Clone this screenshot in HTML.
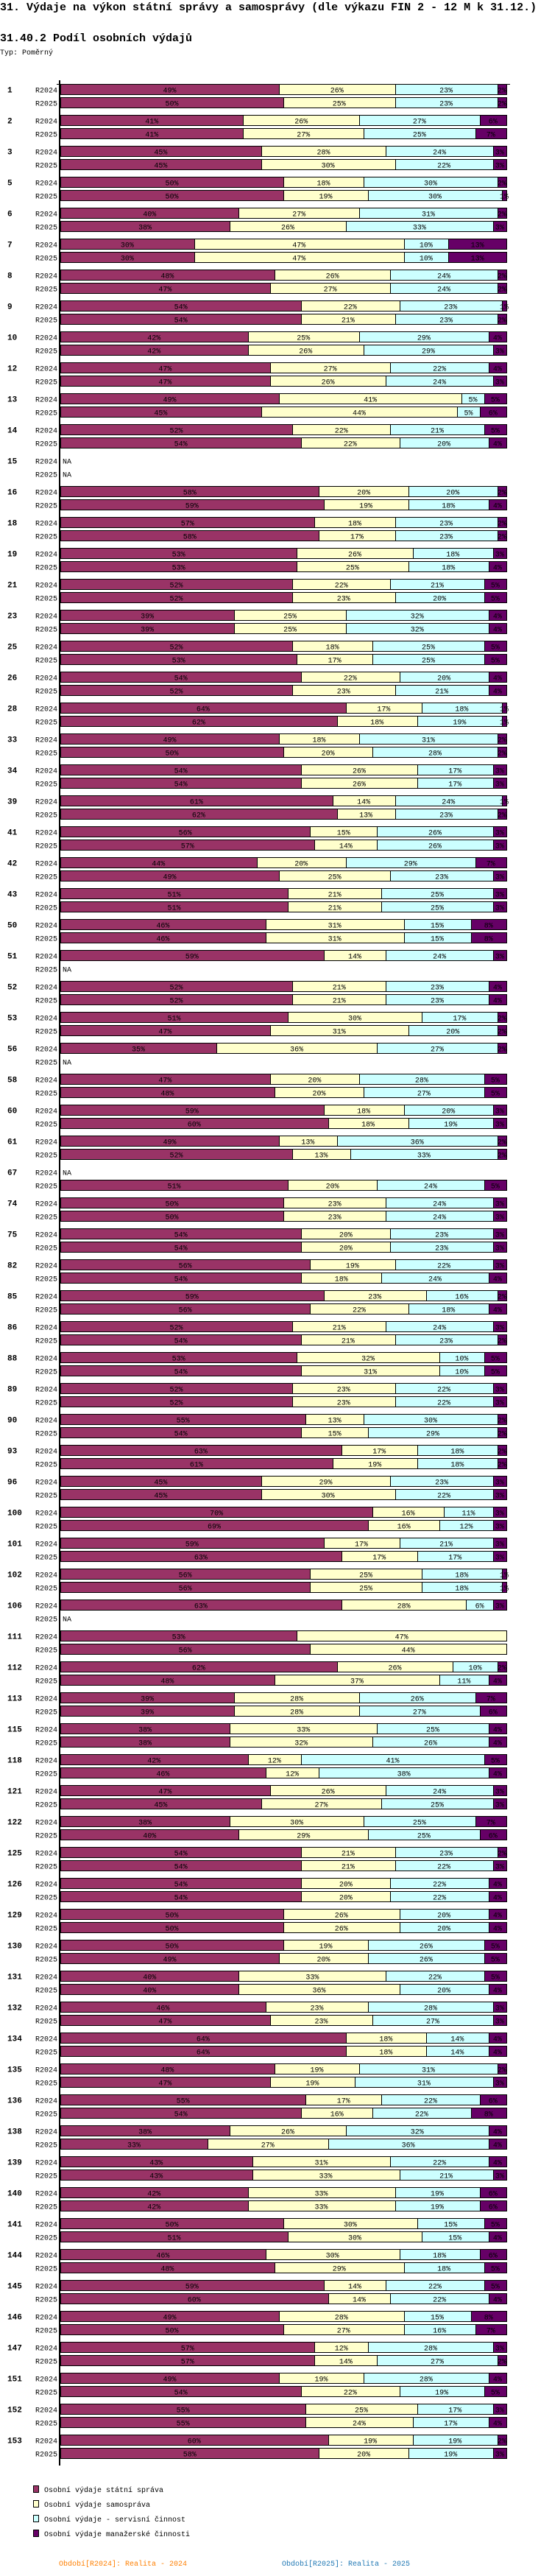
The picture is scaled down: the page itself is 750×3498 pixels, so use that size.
<!DOCTYPE html>
<html><head><meta charset="utf-8"><title>31.40.2 Podíl osobních výdajů</title>
<style>
html,body{margin:0;padding:0;background:#fff;}
body{width:750px;height:3498px;position:relative;overflow:hidden;font-family:"Liberation Mono",monospace;}
.t1{position:absolute;left:0;top:2px;font-size:15px;font-weight:bold;white-space:nowrap;color:#000;}
.t2{position:absolute;left:0;top:44px;font-size:15px;font-weight:bold;white-space:nowrap;color:#000;}
.t3{position:absolute;left:0;top:67px;font-size:10px;white-space:nowrap;color:#000;}
svg{position:absolute;left:0;top:0;}
</style></head>
<body>
<div class="t1">31. Výdaje na výkon státní správy a samosprávy (dle výkazu FIN 2 - 12 M k 31.12.)</div>
<div class="t2">31.40.2 Podíl osobních výdajů</div>
<div class="t3">Typ: Poměrný</div>
<svg id="chart" width="750" height="3498" xmlns="http://www.w3.org/2000/svg"></svg>
<script>
const groups = [1,2,3,5,6,7,8,9,10,12,13,14,15,16,18,19,21,23,25,26,28,33,34,39,41,42,43,50,51,52,53,56,58,60,61,67,74,75,82,85,86,88,89,90,93,96,100,101,102,106,111,112,113,115,118,121,122,125,126,129,130,131,132,134,135,136,138,139,140,141,144,145,146,147,151,152,153];
const periods = ["R2024","R2025"];
const seriesNames = ["Osobní výdaje státní správa","Osobní výdaje samospráva","Osobní výdaje - servisní činnost","Osobní výdaje manažerské činnosti"];
const state2024 = [49,41,45,50,40,30,48,54,42,47, 49,52,null,58,57,53,52,39,52,54, 64,49,54,61,56,44,51,46,59,52, 51,35,47,59,49,null,50,54,56,59, 52,53,52,55,63,45,70,59,56,63, 53,62,39,38,42,47,38,54,54,50, 50,40,46,64,48,55,38,43,42,50, 46,59,49,57,49,55,60];
const samo2024 = [26,26,28,18,27,47,26,22,25,27, 41,22,null,20,18,26,22,25,18,22, 17,18,26,14,15,20,21,31,14,21, 30,36,20,18,13,null,23,20,19,23, 21,32,23,13,17,29,16,17,25,28, 47,26,28,33,12,26,30,21,20,26, 19,33,23,18,19,17,26,31,33,30, 30,14,28,12,19,25,19];
const serv2024 = [23,27,24,30,31,10,24,23,29,22, 5,21,null,20,23,18,21,32,25,20, 18,31,17,24,26,29,25,15,24,23, 17,27,28,20,36,null,24,23,22,16, 24,10,22,30,18,23,11,21,18,6, 0,10,26,25,41,24,25,23,22,20, 26,22,28,14,31,22,32,22,19,15, 18,22,15,28,28,17,19];
const man2024 = [2,6,3,2,2,13,2,1,4,4, 5,5,null,2,2,3,5,4,5,4, 1,2,3,1,3,7,3,8,3,4, 2,2,5,3,2,null,3,3,3,2, 3,5,3,2,2,3,3,3,1,3, 0,2,7,4,5,3,7,2,4,4, 5,5,3,4,2,6,4,4,6,5, 6,5,8,3,4,3,2];
const state2025 = [50,41,45,50,38,30,47,54,42,47, 45,54,null,59,58,53,52,39,53,52, 62,50,54,62,57,49,51,46,null,52, 47,null,48,60,52,51,50,54,54,56, 54,54,52,54,61,45,69,63,56,null, 56,48,39,38,46,45,40,54,54,50, 49,40,47,64,47,54,33,43,42,51, 48,60,50,57,54,55,58];
const samo2025 = [25,27,30,19,26,47,27,21,26,26, 44,22,null,19,17,25,23,25,17,23, 18,20,26,13,14,25,21,31,null,21, 31,null,20,18,13,20,23,20,18,22, 21,31,23,15,19,30,16,17,25,null, 44,37,28,32,12,27,29,21,20,26, 20,36,23,18,19,16,27,33,33,30, 29,14,27,14,22,24,20];
const serv2025 = [23,25,22,30,33,10,24,23,29,24, 5,20,null,18,23,18,20,32,25,21, 19,28,17,23,26,23,25,15,null,23, 20,null,27,19,33,24,24,23,24,18, 23,10,22,29,18,22,12,17,18,null, 0,11,27,26,38,25,25,22,22,20, 26,20,27,14,31,22,36,21,19,15, 18,22,16,27,19,17,19];
const man2025 = [2,7,3,1,3,13,2,2,3,3, 6,4,null,4,2,4,5,4,5,4, 1,2,3,2,3,3,3,8,null,4, 2,null,5,3,2,5,3,3,4,4, 2,5,3,2,2,3,3,3,1,null, 0,4,6,4,4,3,6,3,4,4, 5,4,3,4,3,8,4,3,6,4, 5,4,7,2,5,4,3];

const colors = ["#993366","#FFFFCC","#CCFFFF","#660066"];
const NS = "http://www.w3.org/2000/svg";
const svg = document.getElementById("chart");
const X0 = 82, W = 606, TOP = 114, GROUP = 42, ROW = 18, BH = 15;
function xScale(p){ return X0 + p * W; }
function yRow(gi, pi){ return TOP + gi * GROUP + pi * ROW; }
function mk(tag, attrs){ const e = document.createElementNS(NS, tag); for (const k in attrs) e.setAttribute(k, attrs[k]); svg.appendChild(e); return e; }
const data = [[state2024,samo2024,serv2024,man2024],[state2025,samo2025,serv2025,man2025]];

groups.forEach((g, gi) => {
  const gl = mk("text", {x: 10, y: yRow(gi,0) + BH/2 + 4, "font-size": 11, "font-weight": "bold", "font-family": "Liberation Mono, monospace"});
  gl.textContent = g;
  
  
  periods.forEach((p, pi) => {
    const y = yRow(gi, pi);
    const rl = mk("text", {x: 78, y: y + BH/2 + 4, "font-size": 10, "text-anchor": "end", "font-family": "Liberation Mono, monospace"});
    rl.textContent = p;
    
    
    const vals = data[pi].map(s => s[gi]);
    if (vals[0] === null) {
      const na = mk("text", {x: 85, y: y + BH/2 + 4, "font-size": 10, "font-family": "Liberation Mono, monospace"});
      na.textContent = "NA";
      
      
      return;
    }
    const sum = vals.reduce((a, b) => a + b, 0);
    let acc = 0;
    vals.forEach((v, si) => {
      if (!v) return;
      const x1 = xScale(acc / sum), x2 = xScale((acc + v) / sum);
      acc += v;
      const r = mk("rect", {x: Math.round(x1) + 0.5, y: y + 0.5, width: Math.max(1, Math.round(x2) - Math.round(x1)), height: BH - 1, fill: colors[si], stroke: "#000", "stroke-width": 1});
      
      
      const t = mk("text", {x: (x1 + x2) / 2, y: y + BH/2 + 4, "font-size": 10, "text-anchor": "middle", "font-family": "Liberation Mono, monospace", fill: "#000"});
      t.textContent = v + "%";
      
      
    });
  });
});

const lastY = yRow(groups.length - 1, 1) + BH + 9;
const ax = mk("line", {x1: 81, y1: 109, x2: 81, y2: lastY, stroke: "#000", "stroke-width": 2});


const tk = mk("line", {x1: 77, y1: 114.5, x2: 693, y2: 114.5, stroke: "#000", "stroke-width": 1});



const legY = lastY + 27;
seriesNames.forEach((n, i) => {
  const y = legY + i * 20;
  const sq = mk("rect", {x: 45.5, y: y + 0.5, width: 7, height: 9, fill: colors[i], stroke: "#000", "stroke-width": 1});
  
  
  const lt = mk("text", {x: 60, y: y + 9, "font-size": 10, "font-family": "Liberation Mono, monospace"});
  lt.textContent = n;
  
  
});
const f1 = mk("text", {x: 80, y: legY + 109, "font-size": 10, fill: "#FF7F00", "font-family": "Liberation Mono, monospace"});
f1.textContent = "Období[R2024]: Realita - 2024";


const f2 = mk("text", {x: 383, y: legY + 109, "font-size": 10, fill: "#1F77B4", "font-family": "Liberation Mono, monospace"});
f2.textContent = "Období[R2025]: Realita - 2025";


</script>
</body></html>
